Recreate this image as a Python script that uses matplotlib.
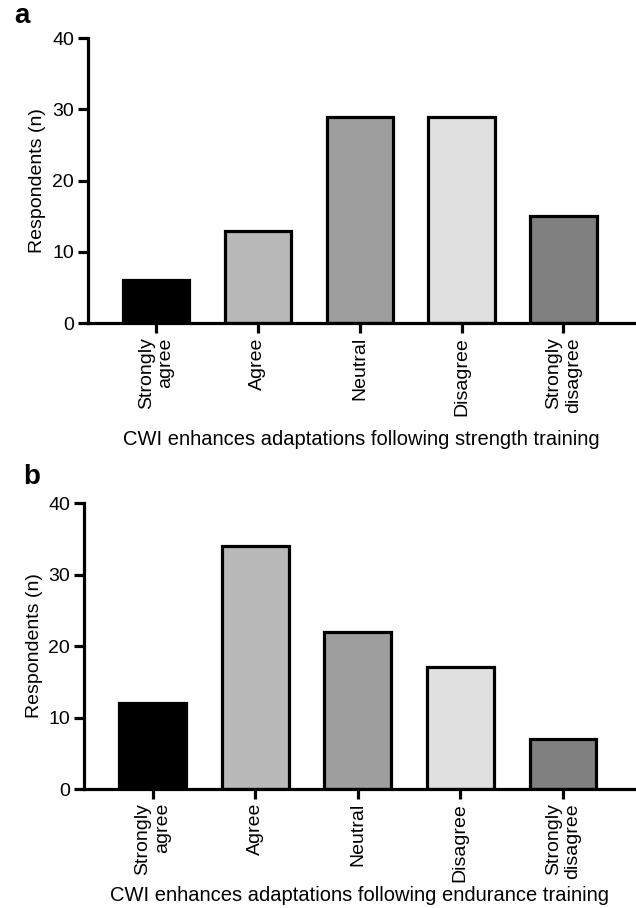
import matplotlib
matplotlib.use("Agg")
import matplotlib.pyplot as plt

# Survey responses (counts) for each statement
categories = ["Strongly\nagree", "Agree", "Neutral", "Disagree", "Strongly\ndisagree"]
strength_counts = [6, 13, 29, 29, 15]
endurance_counts = [12, 34, 22, 17, 7]
bar_colors = ["#000000", "#b8b9b8", "#9d9e9d", "#dfe0df", "#808080"]

plt.rcParams["font.family"] = ["Liberation Sans", "DejaVu Sans"]

fig = plt.figure(figsize=(6.36, 9.08), dpi=100)

panels = [
    ("a", strength_counts, "CWI enhances adaptations following strength training",
     [0.138, 0.644, 0.860, 0.314], (0.022, 0.997), 10),
    ("b", endurance_counts, "CWI enhances adaptations following endurance training",
     [0.132, 0.131, 0.866, 0.315], (0.037, 0.489), 3),
]

for letter, counts, xlabel, rect, lpos, lpad in panels:
    ax = fig.add_axes(rect)
    x = range(len(categories))
    ax.bar(x, counts, width=0.65, color=bar_colors, edgecolor="black",
           linewidth=2.3, zorder=2)
    ax.set_xlim(-0.67, 4.70)
    ax.set_ylim(0, 40)
    ax.set_yticks([0, 10, 20, 30, 40])
    ax.set_xticks(list(x))
    ax.set_xticklabels(categories, rotation=90, multialignment="right")
    ax.spines["top"].set_visible(False)
    ax.spines["right"].set_visible(False)
    for s in ("left", "bottom"):
        ax.spines[s].set_linewidth(2.3)
    ax.tick_params(axis="both", width=2.3, length=7, labelsize=14, pad=3)
    ax.set_ylabel("Respondents (n)", fontsize=14, labelpad=4)
    ax.set_xlabel(xlabel, fontsize=14.5, labelpad=lpad)
    fig.text(lpos[0], lpos[1], letter, fontsize=20, fontweight="bold",
             ha="left", va="top")

fig.savefig("out.png", dpi=100)
